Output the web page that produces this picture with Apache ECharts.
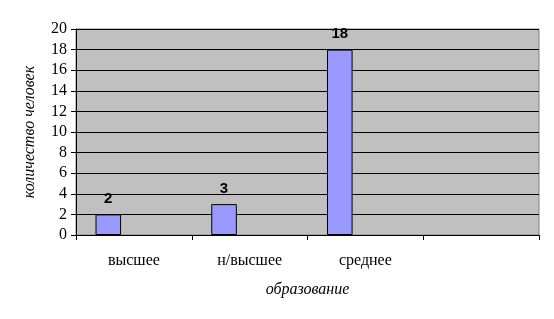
<!DOCTYPE html>
<html>
<head>
<meta charset="utf-8">
<script src="https://cdn.jsdelivr.net/npm/echarts@6/dist/echarts.min.js"></script>
<style>
  html, body { margin: 0; padding: 0; background: #ffffff; }
  #chart { width: 554px; height: 319px; }
</style>
</head>
<body>
<div id="chart"></div>
<script>
  // данные
  var categories = ['высшее', 'н/высшее', 'среднее', ''];
  var people = [2, 3, 18, null];
  var emptySeries = [null, null, null, null];

  var chart = echarts.init(document.getElementById('chart'));

  var serif = '"Liberation Serif", "Times New Roman", serif';

  var option = {
    animation: false,
    grid: {
      left: 76, right: 15, top: 29, bottom: 84,
      show: true,
      backgroundColor: '#c0c0c0',
      borderColor: '#808080',
      borderWidth: 1
    },
    xAxis: {
      type: 'category',
      data: categories,
      name: 'образование',
      nameLocation: 'middle',
      nameGap: 47,
      nameTextStyle: { fontFamily: serif, fontStyle: 'italic', fontSize: 16, color: '#000' },
      axisLine: { lineStyle: { color: '#000', width: 1 } },
      axisTick: { show: true, length: 5, lineStyle: { color: '#000' } },
      axisLabel: { margin: 18, fontFamily: serif, fontSize: 16, color: '#000' },
      splitLine: { show: false }
    },
    yAxis: {
      type: 'value',
      min: 0,
      max: 20,
      interval: 2,
      name: 'количество человек',
      nameLocation: 'middle',
      nameRotate: 90,
      nameGap: 38,
      nameTextStyle: { fontFamily: serif, fontStyle: 'italic', fontSize: 16, color: '#000' },
      axisLine: { show: true, lineStyle: { color: '#000', width: 1 } },
      axisTick: { show: true, length: 5, lineStyle: { color: '#000' } },
      axisLabel: { margin: 9, fontFamily: serif, fontSize: 16, color: '#000' },
      splitLine: { show: true, lineStyle: { color: '#000', width: 1 } }
    },
    series: [
      {
        type: 'bar',
        data: people,
        barGap: '0%',
        barCategoryGap: '33.7%',
        itemStyle: { color: '#9999ff', borderColor: '#000', borderWidth: 1 },
        label: {
          show: true,
          position: 'top',
          distance: 8,
          fontFamily: 'Arial, "Liberation Sans", sans-serif',
          fontWeight: 'bold',
          fontSize: 15,
          color: '#000'
        }
      },
      { type: 'bar', data: emptySeries },
      { type: 'bar', data: emptySeries }
    ]
  };

  chart.setOption(option);
</script>
</body>
</html>
